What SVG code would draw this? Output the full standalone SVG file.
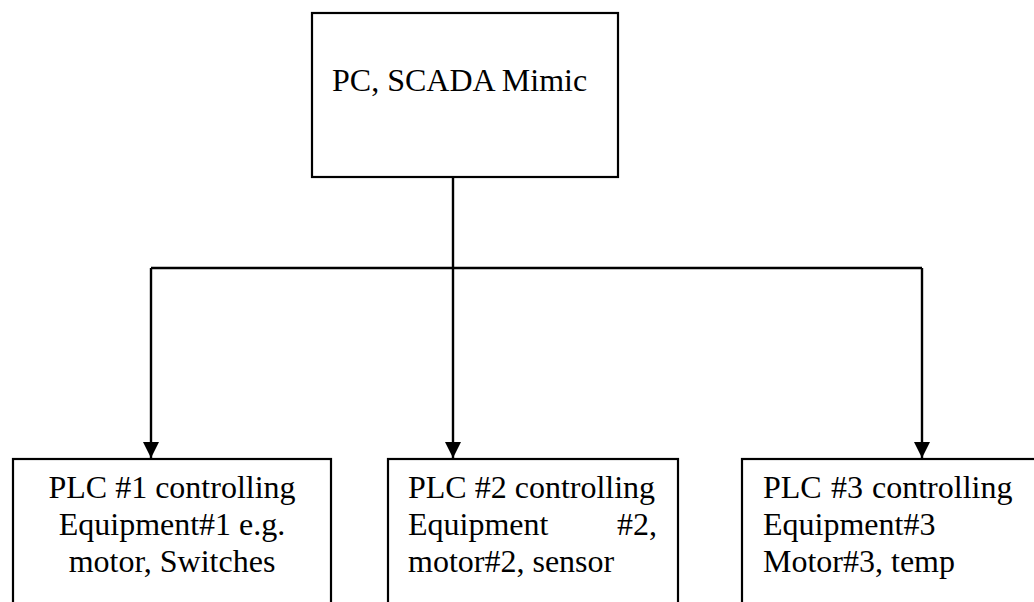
<svg xmlns="http://www.w3.org/2000/svg" width="1034" height="602" viewBox="0 0 1034 602">
<defs>
<style>
.box{fill:#fff;stroke:#000;stroke-width:2.2}
.t{font-family:'Liberation Serif','Times New Roman','DejaVu Serif',serif;font-size:32px;fill:#000}
.ln{fill:none;stroke:#000;stroke-width:2.4}
</style>
<marker id="ah" markerUnits="userSpaceOnUse" markerWidth="16" markerHeight="16" refX="15" refY="7.5" orient="auto" viewBox="0 0 15 15">
<path d="M0,0 L15,7.5 L0,15 Z" fill="#000"/>
</marker>
</defs>
<rect width="1034" height="602" fill="#fff"/>
<g id="connectors">
<line class="ln" x1="453" y1="177" x2="453" y2="268"/>
<line class="ln" x1="151" y1="268" x2="922" y2="268"/>
<line class="ln" x1="151" y1="268" x2="151" y2="458" marker-end="url(#ah)"/>
<line class="ln" x1="453" y1="268" x2="453" y2="458" marker-end="url(#ah)"/>
<line class="ln" x1="922" y1="268" x2="922" y2="458" marker-end="url(#ah)"/>
</g>
<g id="pc">
<rect class="box" x="312" y="13" width="306" height="164"/>
<text class="t" x="332" y="91">PC, SCADA Mimic</text>
</g>
<g id="plc1">
<rect class="box" x="13" y="459" width="318" height="170"/>
<text class="t" text-anchor="middle"><tspan x="172" y="498">PLC #1 controlling</tspan><tspan x="172" y="535">Equipment#1 e.g.</tspan><tspan x="172" y="572">motor, Switches</tspan></text>
</g>
<g id="plc2">
<rect class="box" x="388" y="459" width="290" height="170"/>
<text class="t"><tspan x="408" y="498">PLC #2 controlling</tspan><tspan x="408" y="535">Equipment</tspan><tspan x="657" y="535" text-anchor="end">#2,</tspan><tspan x="408" y="572">motor#2, sensor</tspan></text>
</g>
<g id="plc3">
<rect class="box" x="742" y="459" width="310" height="170"/>
<text class="t"><tspan x="763" y="498">PLC</tspan><tspan x="831" y="498">#3</tspan><tspan x="872" y="498">controlling</tspan><tspan x="763" y="535">Equipment#3</tspan><tspan x="763" y="572">Motor#3, temp</tspan></text>
</g>
</svg>
